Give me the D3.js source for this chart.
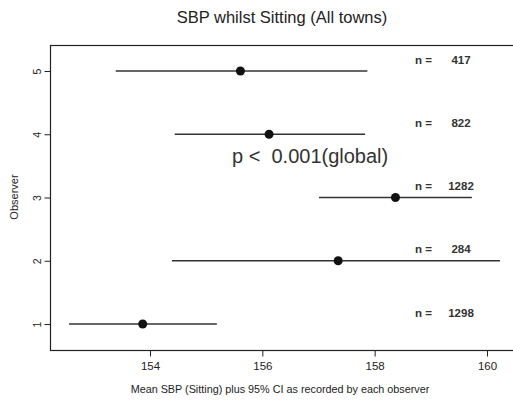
<!DOCTYPE html>
<html>
<head>
<meta charset="utf-8">
<script src="https://cdn.jsdelivr.net/npm/d3@7"></script>
<style>
html,body{margin:0;padding:0;background:#fff;}
text{font-family:"Liberation Sans",Arial,sans-serif;fill:#222;}
</style>
</head>
<body>
<svg id="chart" width="513" height="402"></svg>
<script>
const observers = [1, 2, 3, 4, 5];
const means = [153.87, 157.35, 158.37, 156.12, 155.61];
const lower = [152.56, 154.39, 157.01, 154.44, 153.39];
const upper = [155.19, 160.23, 159.73, 157.83, 157.87];
const counts = [1298, 284, 1282, 822, 417];
const xTicks = [154, 156, 158, 160];
const yTicks = [1, 2, 3, 4, 5];

const svg = d3.select("#chart");
const box = {left: 50.5, top: 45.5, right: 520, bottom: 350.5};

const x = d3.scaleLinear().domain([154, 160]).range([150, 487]);
const y = d3.scaleLinear().domain([1, 5]).range([324, 71]);

// title
svg.append("text").attr("x", 282).attr("y", 23).attr("text-anchor", "middle")
  .style("font-size", "16.5px").text("SBP whilst Sitting (All towns)");

// box
svg.append("rect").attr("x", box.left).attr("y", box.top)
  .attr("width", box.right - box.left).attr("height", box.bottom - box.top)
  .attr("fill", "none").attr("stroke", "#222").attr("stroke-width", 1.2);

// x axis
const xAxis = svg.append("g").attr("transform", `translate(0,${box.bottom})`)
  .call(d3.axisBottom(x).tickValues(xTicks).tickSize(6).tickPadding(5).tickFormat(d3.format("d")));
xAxis.select(".domain").remove();
xAxis.selectAll("line").attr("stroke", "#222");
xAxis.selectAll("text").style("font-size", "11.5px").style("font-family", "Liberation Sans, Arial, sans-serif").attr("fill", "#222");

// y axis
const yAxis = svg.append("g").attr("transform", `translate(${box.left},0)`)
  .call(d3.axisLeft(y).tickValues(yTicks).tickSize(6).tickPadding(5).tickFormat(d3.format("d")));
yAxis.select(".domain").remove();
yAxis.selectAll("line").attr("stroke", "#222");
yAxis.selectAll("text")
  .style("font-size", "10.5px").style("font-family", "Liberation Sans, Arial, sans-serif").attr("fill", "#222")
  .attr("text-anchor", "middle")
  .attr("transform", "translate(-13,0) rotate(-90)")
  .attr("x", 0).attr("y", 0).attr("dy", "0.35em");

// axis titles
svg.append("text").attr("x", 280).attr("y", 393).attr("text-anchor", "middle")
  .style("font-size", "10.8px").text("Mean SBP (Sitting) plus 95% CI as recorded by each observer");
svg.append("text").attr("transform", "translate(18,197) rotate(-90)").attr("text-anchor", "middle")
  .style("font-size", "11px").text("Observer");

// CI lines
const data = observers.map((o, i) => ({o, m: means[i], lo: lower[i], hi: upper[i], n: counts[i]}));
svg.append("g").selectAll("line").data(data).join("line")
  .attr("x1", d => x(d.lo)).attr("x2", d => x(d.hi))
  .attr("y1", d => y(d.o)).attr("y2", d => y(d.o))
  .attr("stroke", "#333").attr("stroke-width", 1.3);
svg.append("g").selectAll("circle").data(data).join("circle")
  .attr("cx", d => x(d.m)).attr("cy", d => y(d.o)).attr("r", 4.5)
  .attr("fill", "#111");

// n labels
const nl = svg.append("g");
nl.selectAll("text.nlab").data(data).join("text").attr("class", "nlab")
  .attr("x", 415).attr("y", d => y(d.o) - 7.5)
  .style("font-size", "11.5px").style("font-weight", "bold").style("fill", "#333").text("n =");
nl.selectAll("text.nval").data(data).join("text").attr("class", "nval")
  .attr("x", 461).attr("y", d => y(d.o) - 7.5).attr("text-anchor", "middle")
  .style("font-size", "11.5px").style("font-weight", "bold").style("fill", "#333").text(d => d.n);

// p-value annotation
svg.append("text").attr("x", 232).attr("y", 163)
  .style("font-size", "20px").style("fill", "#333").attr("xml:space", "preserve").text("p <  0.001(global)");
</script>
</body>
</html>
